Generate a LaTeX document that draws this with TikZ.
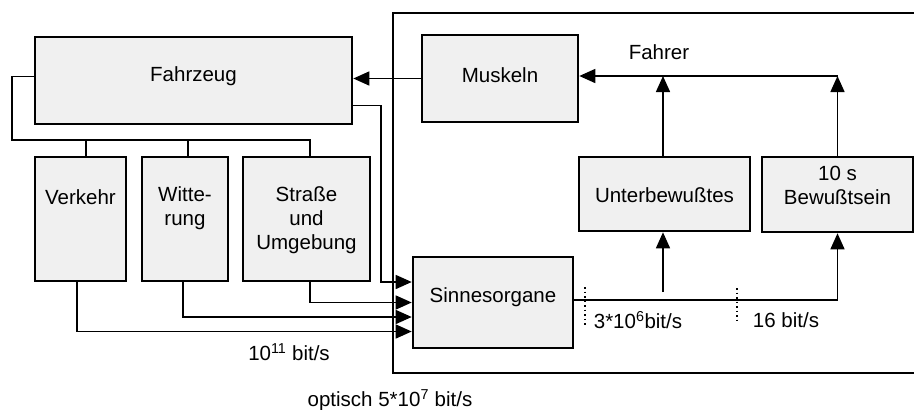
\documentclass[tikz,border=0pt]{standalone}
\usepackage{fontspec}
\setmainfont{Liberation Sans}
\usetikzlibrary{arrows.meta,calc}
\begin{document}
\begin{tikzpicture}[x=1pt,y=-1pt,
  box/.style={draw=black,line width=2.6pt,fill=gray!12,inner sep=0pt},
  lbl/.style={font=\fontsize{20.5}{24}\selectfont,inner sep=0pt,align=center},
  conn/.style={line width=1.5pt},
  arr/.style={conn,-{Triangle[length=16pt,width=14pt]}}]
\useasboundingbox (0,0) rectangle (914,410);
% frame of Fahrer
\draw[line width=2.8pt] (914,13) -- (393,13) -- (393,373) -- (914,373);
% boxes
\node[box,minimum width=317,minimum height=87] (Fahrzeug) at (193.5,80.5) {};
\node[lbl] (tFahrzeug) at (193.5,76) {Fahrzeug};
\node[box,minimum width=91,minimum height=124] (Verkehr) at (80.5,219) {};
\node[lbl] (tVerkehr) at (80.5,197) {Verkehr};
\node[box,minimum width=86,minimum height=124] (Witterung) at (185,219) {};
\node[lbl,anchor=north] (tWitterung) at (185,186) {Witte-\\rung};
\node[box,minimum width=127,minimum height=124] (Strasse) at (306.5,219) {};
\node[lbl,anchor=north] (tStrasse) at (306.5,186) {Straße\\und\\Umgebung};
\node[box,minimum width=156,minimum height=87] (Muskeln) at (500,78.5) {};
\node[lbl] (tMuskeln) at (500,75) {Muskeln};
\node[box,minimum width=171,minimum height=74] (Unter) at (664.5,194) {};
\node[lbl] (tUnter) at (664.5,195) {Unterbewußtes};
\node[box,minimum width=151,minimum height=75] (Bewusst) at (837.5,194.5) {};
\node[lbl] (tBewusst) at (837.5,185) {10 s\\Bewußtsein};
\node[box,minimum width=160,minimum height=91] (Sinnes) at (493,302.5) {};
\node[lbl] (tSinnes) at (493,297) {Sinnesorgane};
% texts
\node[lbl] (Fahrer) at (659,52) {Fahrer};
\node[lbl] (r1) at (289,352) {10\textsuperscript{11} bit/s};
\node[lbl] (r2) at (390,400) {optisch 5*10\textsuperscript{7} bit/s};
\node[lbl] (r3) at (638,320) {3*10\textsuperscript{6}bit/s};
\node[lbl] (r4) at (786,320) {16 bit/s};
% coordinates
\coordinate (busL) at (12,140);
\coordinate (busR) at (310,140);
\coordinate (fzdown) at (381,282);
\coordinate (uj) at (663,292);
\coordinate (topR) at (838,76);
% connectors
\draw[arr] (Muskeln.west) -- (Muskeln.west -| Fahrzeug.east);
\draw[conn] ($(Fahrzeug.west)+(0,-4)$) -| (busL) -- (busR) -- (busR |- Strasse.north);
\draw[conn] (86,140) -- ([xshift=5.5pt]Verkehr.north);
\draw[conn] (188,140) -- ([xshift=3pt]Witterung.north);
\draw[arr] ($(Fahrzeug.south east)+(0,-20)$) -| (fzdown) -- (fzdown -| Sinnes.west);
\draw[arr] ([xshift=3.5pt]Strasse.south) |- ($(Sinnes.west)+(0,0)$);
\draw[arr] ([xshift=-2pt]Witterung.south) |- ($(Sinnes.west)+(0,14.5)$);
\draw[arr] ([xshift=-3.5pt]Verkehr.south) |- ($(Sinnes.west)+(0,29)$);
\draw[arr] ($(Sinnes.east)+(0,-2.5)$) -| (Bewusst.south);
\draw[arr] (uj) -- (uj |- Unter.south);
\draw[arr] (Unter.north -| uj) -- (uj |- topR);
\draw[arr] (Bewusst.north) -- (Bewusst.north |- topR);
\draw[arr] (topR) -- (topR -| Muskeln.east);
\draw[line width=1.3pt,dash pattern=on 1.5pt off 3pt] (585,287) -- (585,325);
\draw[line width=1.3pt,dash pattern=on 1.5pt off 3pt] (737,288) -- (737,323);
\end{tikzpicture}
\end{document}
